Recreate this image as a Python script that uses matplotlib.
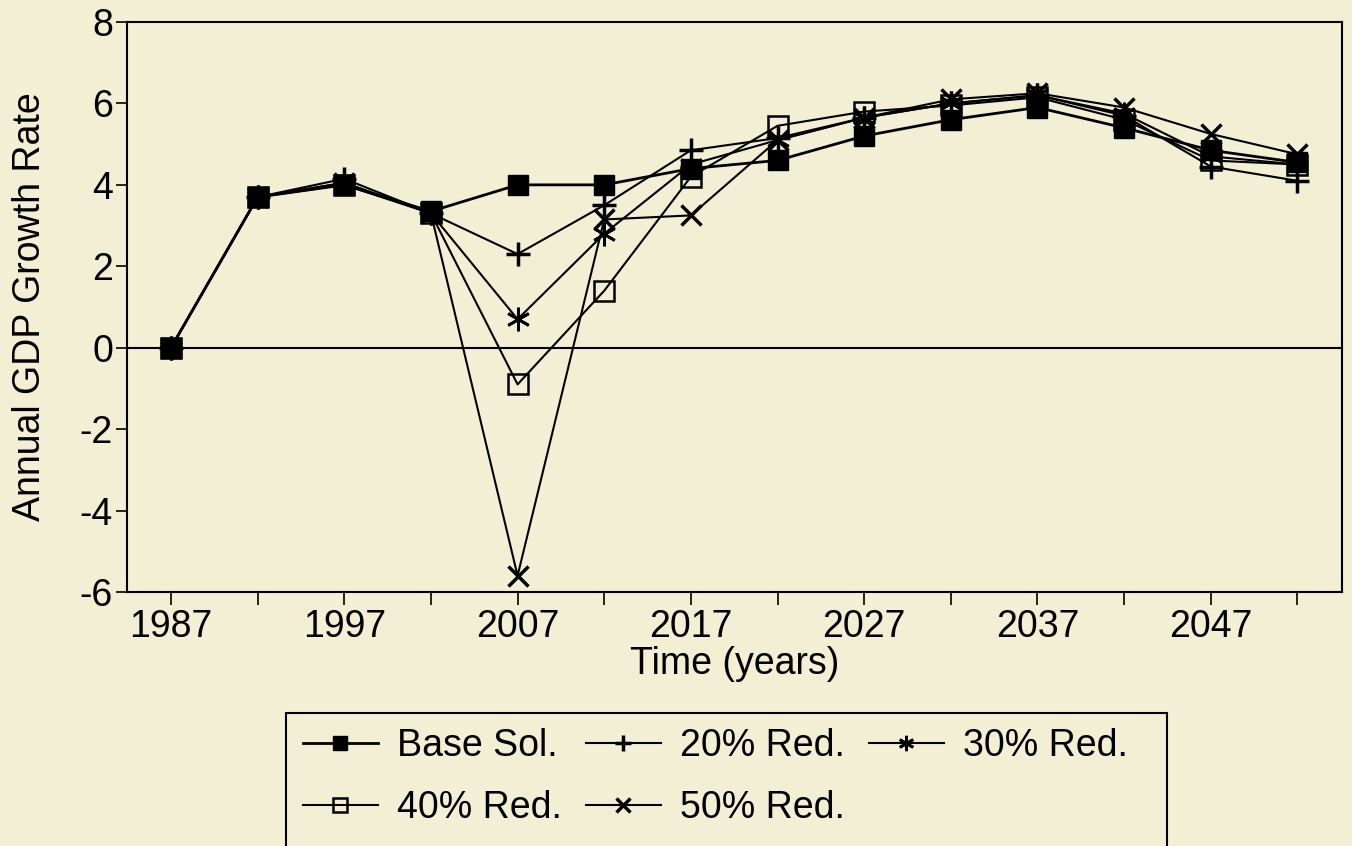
import matplotlib.pyplot as plt
from matplotlib.patches import Rectangle

plt.rcParams['font.family'] = ['Liberation Sans', 'DejaVu Sans']
plt.rcParams['axes.unicode_minus'] = False

years = [1987, 1992, 1997, 2002, 2007, 2012, 2017, 2022, 2027, 2032, 2037, 2042, 2047, 2052]
base = [0, 3.7, 4.0, 3.35, 4.0, 4.0, 4.4, 4.6, 5.2, 5.6, 5.9, 5.4, 4.85, 4.55]
red20 = [0, 3.7, 4.15, 3.3, 2.3, 3.5, 4.85, 5.15, 5.65, 6.0, 6.2, 5.7, 4.45, 4.1]
red30 = [0, 3.7, 4.05, 3.3, 0.7, 2.8, 4.5, 5.1, 5.65, 6.0, 6.2, 5.75, 4.7, 4.5]
red40 = [0, 3.7, 4.0, 3.3, -0.9, 1.4, 4.2, 5.45, 5.8, 5.95, 6.15, 5.6, 4.6, 4.5]
red50 = [0, 3.7, 4.05, 3.3, -5.6, 3.15, 3.25, 5.1, 5.65, 6.1, 6.25, 5.9, 5.25, 4.75]

tick_years = list(range(1987, 2053, 5))
tick_labels = [str(y) if (y - 1987) % 10 == 0 else '' for y in tick_years]
y_ticks = [-6, -4, -2, 0, 2, 4, 6, 8]

bg = '#f3efd4'
fs = 27

fig = plt.figure(figsize=(13.52, 8.46), dpi=100, facecolor=bg)
ax = fig.add_axes([0.0939, 0.3002, 0.8987, 0.6738], facecolor=bg)

ax.axhline(0, color='black', lw=1.5, zorder=1)

h20, = ax.plot(years, red20, color='black', lw=1.5, marker='+', ms=17, mew=2.5, label='20% Red.')
h30, = ax.plot(years, red30, color='black', lw=1.5, marker=(6, 2, 0), ms=17, mew=2.0, label='30% Red.')
h40, = ax.plot(years, red40, color='black', lw=1.5, marker='s', ms=15, mew=1.8, mfc='none', label='40% Red.')
h50, = ax.plot(years, red50, color='black', lw=1.5, marker='x', ms=15, mew=2.5, label='50% Red.')
hb, = ax.plot(years, base, color='black', lw=2.0, marker='s', ms=15, label='Base Sol.')

ax.set_xlim(1984.46, 2054.57)
ax.set_ylim(-6, 8)
ax.set_xticks(tick_years)
ax.set_xticklabels(tick_labels)
ax.set_yticks(y_ticks)
ax.tick_params(axis='both', labelsize=fs, direction='out', width=1.2, color='black')
ax.tick_params(axis='x', length=9, pad=3)
ax.tick_params(axis='y', length=8, pad=2)
for s in ax.spines.values():
    s.set_linewidth(1.5)

ax.set_xlabel('Time (years)', fontsize=fs, labelpad=1)
ax.set_ylabel('Annual GDP Growth Rate', fontsize=fs, labelpad=23)

# legend in row order: Base, 20, 30 / 40, 50
leg = fig.legend([hb, h40, h20, h50, h30],
                 ['Base Sol.', '40% Red.', '20% Red.', '50% Red.', '30% Red.'],
                 ncol=3, loc='upper left', bbox_to_anchor=(0.2241, 0.1395),
                 frameon=False, fontsize=fs, borderpad=0, borderaxespad=0,
                 handlelength=2.0, handletextpad=0.5, columnspacing=0.65,
                 labelspacing=0.69, markerscale=0.65)

fig.patches.append(Rectangle((286 / 1352, -0.02), (1167 - 286) / 1352, 0.02 + (846 - 713) / 846,
                             transform=fig.transFigure, fill=False, edgecolor='black', lw=1.5))

fig.savefig('out.png', dpi=100, facecolor=bg)
